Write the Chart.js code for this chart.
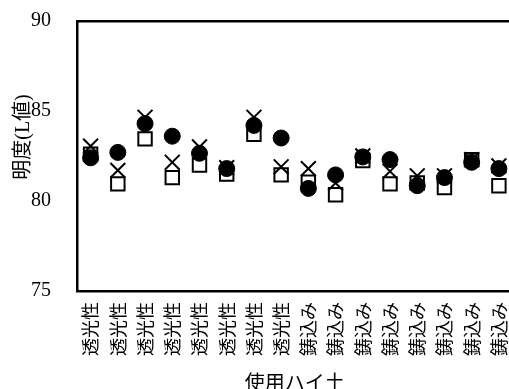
<!DOCTYPE html>
<html lang="ja">
<head>
<meta charset="utf-8">
<script src="https://cdn.jsdelivr.net/npm/chart.js@4"></script>
<style>
html, body { margin: 0; padding: 0; overflow: hidden; background: #fff; }
canvas { display: block; }
</style>
</head>
<body>
<canvas id="c" width="525" height="396"></canvas>
<script>
// 使用坏土ごとの明度（L値）
const categories = [
  '透光性', '透光性', '透光性', '透光性', '透光性', '透光性', '透光性', '透光性',
  '鋳込み', '鋳込み', '鋳込み', '鋳込み', '鋳込み', '鋳込み', '鋳込み', '鋳込み'
];
const circleValues = [82.4, 82.7, 84.3, 83.6, 82.65, 81.8, 84.2, 83.5, 80.7, 81.45, 82.45, 82.3, 80.85, 81.3, 82.15, 81.8];
const crossValues  = [83.05, 81.7, 84.65, 82.15, 83.0, 81.85, 84.65, 81.9, 81.8, 81.0, 82.5, 81.65, 81.4, 81.4, 82.3, 81.95];
const squareValues = [82.6, 80.95, 83.45, 81.3, 82.0, 81.5, 83.7, 81.45, 81.05, 80.35, 82.25, 80.95, 81.0, 80.75, 82.3, 80.85];
const yTicks = [75, 80, 85, 90];
const yTitle = '明度(L値)';
const xTitle = '使用ハイ土';

const serif = '"Liberation Serif", "Noto Sans CJK JP", serif';
const cjk = '"Noto Sans CJK JP", sans-serif';

// 軸の余白はレイアウトの padding だけで決める
function noScalePadding(scale) {
  scale.paddingLeft = 0;
  scale.paddingRight = 0;
  scale.paddingTop = 0;
  scale.paddingBottom = 0;
}

// 縦軸タイトル（軸中央より少し上に配置）
const yTitlePlugin = {
  id: 'yTitle',
  afterDraw(chart) {
    const { ctx, chartArea } = chart;
    ctx.save();
    ctx.translate(24, chartArea.top + 116);
    ctx.rotate(-Math.PI / 2);
    ctx.font = '20px ' + serif;
    ctx.textAlign = 'center';
    ctx.textBaseline = 'middle';
    ctx.fillStyle = '#000';
    ctx.fillText(yTitle, 0, 0);
    ctx.restore();
  }
};

new Chart(document.getElementById('c'), {
  type: 'line',
  data: {
    labels: categories,
    datasets: [
      {
        data: circleValues,
        showLine: false,
        pointStyle: 'circle',
        pointRadius: 8,
        pointHoverRadius: 8,
        backgroundColor: '#000',
        borderColor: '#000',
        borderWidth: 1
      },
      {
        data: crossValues,
        showLine: false,
        pointStyle: 'crossRot',
        pointRadius: 10.5,
        pointHoverRadius: 10.5,
        backgroundColor: '#000',
        borderColor: '#000',
        borderWidth: 2
      },
      {
        data: squareValues,
        showLine: false,
        pointStyle: 'rect',
        pointRadius: 9.5,
        pointHoverRadius: 9.5,
        backgroundColor: '#fff',
        borderColor: '#000',
        borderWidth: 2
      }
    ]
  },
  options: {
    responsive: false,
    animation: false,
    devicePixelRatio: 1,
    layout: { padding: { left: 0, top: 21, right: 2, bottom: 0 } },
    plugins: {
      legend: { display: false },
      tooltip: { enabled: false }
    },
    scales: {
      x: {
        type: 'category',
        offset: true,
        grid: { display: false },
        border: { display: true, color: '#000', width: 2.5 },
        ticks: {
          autoSkip: false,
          minRotation: 90,
          maxRotation: 90,
          padding: 3,
          color: '#000',
          font: { family: cjk, size: 18 }
        },
        title: {
          display: true,
          text: xTitle,
          color: '#000',
          font: { family: cjk, size: 20 },
          padding: { top: 0, bottom: 2 }
        },
        afterFit(scale) { scale.height = 105; noScalePadding(scale); }
      },
      xTop: {
        type: 'category',
        position: 'top',
        offset: true,
        grid: { display: false },
        border: { display: true, color: '#000', width: 2.5 },
        ticks: { display: false },
        afterFit(scale) { scale.height = 0; noScalePadding(scale); }
      },
      y: {
        min: 75,
        max: 90,
        grid: { display: false },
        border: { display: true, color: '#000', width: 2.5 },
        ticks: {
          padding: 18,
          color: '#000',
          font: { family: serif, size: 20 }
        },
        afterBuildTicks(scale) { scale.ticks = yTicks.map(v => ({ value: v })); },
        afterFit(scale) { scale.width = 77; noScalePadding(scale); }
      }
    }
  },
  plugins: [yTitlePlugin]
});
</script>
</body>
</html>
